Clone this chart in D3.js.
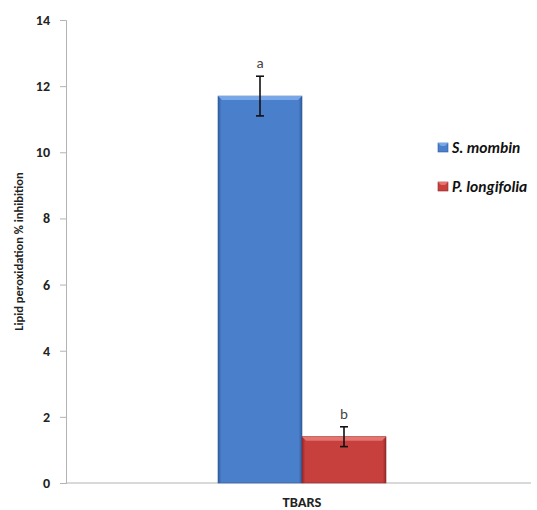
<!DOCTYPE html>
<html>
<head>
<meta charset="utf-8">
<script src="https://cdn.jsdelivr.net/npm/d3@7/dist/d3.min.js"></script>
<style>
  body { margin: 0; background: #fff; }
  text { font-family: Carlito, Lato, "Open Sans", sans-serif; }
</style>
</head>
<body>
<div id="chart"></div>
<script>
// data
var categories = ["TBARS"];
var seriesNames = ["S. mombin", "P. longifolia"];
var seriesValues = [11.7, 1.4];
var seriesErrors = [0.6, 0.3];
var seriesLetters = ["a", "b"];
var yTicks = [0, 2, 4, 6, 8, 10, 12, 14];

var width = 537, height = 510;
var margin = {top: 20, right: 0, bottom: 27, left: 66};

// colours: main face, light bevel, dark edge
var palette = [
  {face: "#4a7fcb", light: "#79a6e6", dark: "#2f5c9c"},
  {face: "#c8403e", light: "#e5736f", dark: "#8f2a29"}
];

var svg = d3.select("#chart").append("svg")
  .attr("width", width)
  .attr("height", height);

var y = d3.scaleLinear()
  .domain([0, 14])
  .range([height - margin.bottom, margin.top]);

var x0 = d3.scaleBand()
  .domain(categories)
  .range([margin.left, width + 1])
  .padding(0.475);

var x1 = d3.scaleBand()
  .domain(seriesNames)
  .range([0, x0.bandwidth()]);

// horizontal gradients for the bar faces (dark side edges)
var defs = svg.append("defs");
palette.forEach(function(c, i){
  var g = defs.append("linearGradient")
    .attr("id", "face" + i)
    .attr("x1", 0).attr("x2", 1).attr("y1", 0).attr("y2", 0);
  g.append("stop").attr("offset", "0%").attr("stop-color", c.dark);
  g.append("stop").attr("offset", "4%").attr("stop-color", c.face);
  g.append("stop").attr("offset", "96%").attr("stop-color", c.face);
  g.append("stop").attr("offset", "100%").attr("stop-color", c.dark);
});

// y axis
var yAxis = svg.append("g")
  .attr("transform", "translate(" + margin.left + ",0)")
  .call(d3.axisLeft(y).tickValues(yTicks).tickSize(6).tickPadding(10));
yAxis.select(".domain").attr("stroke", "#b3b3b3");
yAxis.selectAll(".tick line").attr("stroke", "#b3b3b3");
yAxis.selectAll(".tick text")
  .attr("fill", "#222")
  .style("font-size", "14px")
  .style("font-weight", "bold")
  .style("font-family", "Carlito, Lato, sans-serif");

// x axis line
svg.append("line")
  .attr("x1", margin.left).attr("x2", width - 6)
  .attr("y1", y(0)).attr("y2", y(0))
  .attr("stroke", "#b3b3b3");

// bars
var bars = svg.append("g").selectAll("g.bar")
  .data(seriesNames.map(function(n, i){
    return {name: n, value: seriesValues[i], err: seriesErrors[i], letter: seriesLetters[i], i: i};
  }))
  .enter().append("g")
  .attr("class", "bar");

var bev = 4;
bars.each(function(d){
  var g = d3.select(this);
  var bx = x0(categories[0]) + x1(d.name);
  var bw = x1.bandwidth();
  var top = y(d.value), bottom = y(0);
  var c = palette[d.i];
  g.append("rect")
    .attr("x", bx).attr("y", top)
    .attr("width", bw).attr("height", bottom - top)
    .attr("fill", "url(#face" + d.i + ")")
    .attr("stroke", c.dark).attr("stroke-width", 0.6);
  // bevelled top edge
  g.append("path")
    .attr("d", "M" + bx + "," + top + "L" + (bx + bw) + "," + top +
      "L" + (bx + bw - bev) + "," + (top + bev) + "L" + (bx + bev) + "," + (top + bev) + "Z")
    .attr("fill", c.light);
  // error bar
  var cx = bx + bw / 2;
  g.append("line")
    .attr("x1", cx).attr("x2", cx)
    .attr("y1", y(d.value + d.err)).attr("y2", y(d.value - d.err))
    .attr("stroke", "#111").attr("stroke-width", 1.6);
  [d.value + d.err, d.value - d.err].forEach(function(v){
    g.append("line")
      .attr("x1", cx - 4).attr("x2", cx + 4)
      .attr("y1", y(v)).attr("y2", y(v))
      .attr("stroke", "#111").attr("stroke-width", 1.6);
  });
  g.append("text")
    .attr("x", cx).attr("y", y(d.value + d.err) - 8)
    .attr("text-anchor", "middle")
    .attr("fill", "#444")
    .style("font-size", "15px")
    .text(d.letter);
});

// category label
svg.append("text")
  .attr("x", x0(categories[0]) + x0.bandwidth() / 2)
  .attr("y", height - 3)
  .attr("text-anchor", "middle")
  .attr("fill", "#222")
  .style("font-size", "14.5px")
  .style("font-weight", "bold")
  .text(categories[0]);

// y axis title
svg.append("text")
  .attr("transform", "translate(23," + ((margin.top + y(0)) / 2) + ") rotate(-90)")
  .attr("text-anchor", "middle")
  .attr("fill", "#222")
  .style("font-size", "12.5px")
  .style("font-weight", "bold")
  .text("Lipid peroxidation % inhibition");

// legend
var legend = svg.append("g").selectAll("g")
  .data(seriesNames)
  .enter().append("g")
  .attr("transform", function(d, i){ return "translate(438," + (143 + i * 39) + ")"; });
legend.append("rect")
  .attr("width", 10).attr("height", 9)
  .attr("fill", function(d, i){ return palette[i].face; })
  .attr("stroke", function(d, i){ return palette[i].dark; })
  .attr("stroke-width", 0.6);
legend.append("path")
  .attr("d", "M0,0L10,0L7,3L3,3Z")
  .attr("fill", function(d, i){ return palette[i].light; });
legend.append("text")
  .attr("x", 14).attr("y", 9.5)
  .attr("fill", "#111")
  .style("font-size", "15.5px")
  .style("font-weight", "bold")
  .style("font-style", "italic")
  .text(function(d){ return d; });
</script>
</body>
</html>
